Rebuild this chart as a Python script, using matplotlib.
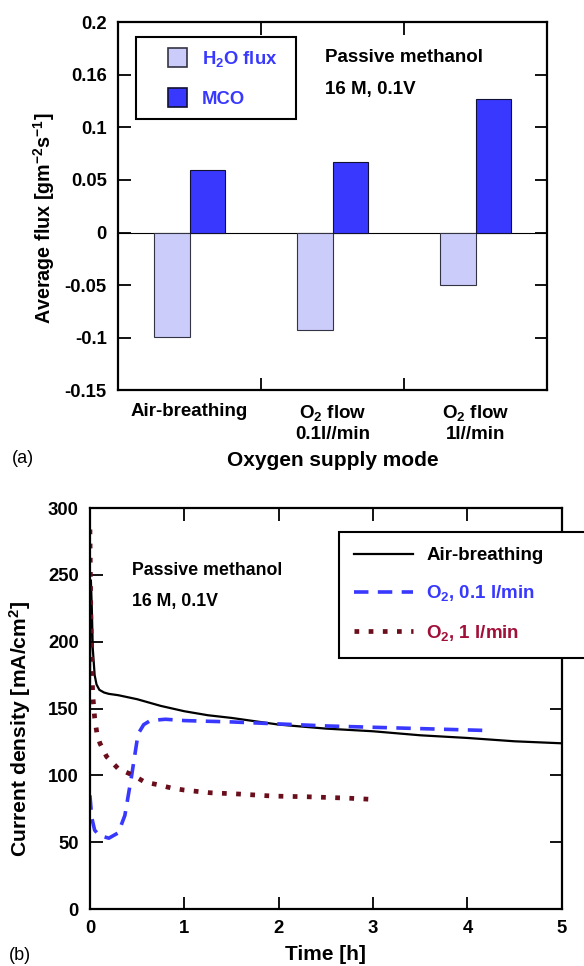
import numpy as np
import matplotlib
matplotlib.use("Agg")
from matplotlib import pyplot as plt
from matplotlib.patches import Patch, Rectangle
from matplotlib.legend_handler import HandlerPatch

plt.rcParams['font.family'] = ['Liberation Sans', 'DejaVu Sans']
plt.rcParams['font.weight'] = 'bold'
plt.rcParams['axes.labelweight'] = 'bold'
plt.rcParams['mathtext.fontset'] = 'custom'
plt.rcParams['mathtext.rm'] = 'Liberation Sans:bold'
plt.rcParams['mathtext.bf'] = 'Liberation Sans:bold'
plt.rcParams['mathtext.it'] = 'Liberation Sans:bold'
plt.rcParams['mathtext.default'] = 'rm'

# --- dane (a) ---
categories = ["Air-breathing", "O$_2$ flow\n0.1l//min", "O$_2$ flow\n1l//min"]
h2o_flux = [-0.0998, -0.0926, -0.0502]
mco_flux = [0.0597, 0.0670, 0.1267]
flux_ticks = [-0.15, -0.1, -0.05, 0, 0.05, 0.1, 0.15, 0.2]
flux_tick_labels = ["-0.15", "-0.1", "-0.05", "0", "0.05", "0.1", "0.16", "0.2"]

# --- dane (b) ---
t_air = [0, 0.005, 0.01, 0.02, 0.03, 0.05, 0.07, 0.1, 0.15, 0.2, 0.3, 0.5,
         0.75, 1.0, 1.25, 1.5, 2.0, 2.5, 3.0, 3.5, 4.0, 4.5, 5.0]
j_air = [165, 230, 246, 225, 195, 175, 168, 164, 162, 161, 160, 157,
         152, 148, 145, 143, 138, 135, 133, 130, 128, 125.5, 124]

t_o2_01 = [0, 0.02, 0.05, 0.1, 0.2, 0.3, 0.37, 0.44, 0.51, 0.57, 0.64, 0.8,
           1.0, 1.5, 2.0, 2.5, 3.0, 3.5, 4.0, 4.25]
j_o2_01 = [85, 68, 59, 55, 53, 57, 70, 99, 131, 138, 141, 142,
           141, 140, 138.5, 137, 136, 135, 134, 133.5]

t_o2_1 = [0, 0.005, 0.01, 0.02, 0.03, 0.05, 0.075, 0.106, 0.177, 0.3, 0.46,
          0.58, 0.72, 0.865, 1.0, 1.27, 1.59, 1.94, 2.3, 2.72, 3.0]
j_o2_1 = [284, 250, 215, 180, 160, 143, 131, 124, 114, 105, 100,
          95, 93, 90.5, 89, 87, 86, 84.5, 84, 83, 82]

blue = "#3838ff"
light = "#ccccfa"
maroon = "#6a0e1c"


# kwadratowy symbol legendy, dosunięty do prawej strony pola
def square_patch(legend, orig_handle, xdescent, ydescent, width, height, fontsize):
    return Rectangle((-xdescent + width - height, -ydescent), height, height)


fig = plt.figure(figsize=(5.84, 9.66), dpi=100)

# ---------------- (a) ----------------
ax1 = fig.add_axes([0.202, 0.596, 0.735, 0.381])
x = np.arange(len(categories)) + 0.5
w = 0.25
ax1.bar(x - w / 2, h2o_flux, w, color=light, edgecolor="#333344", linewidth=0.8)
ax1.bar(x + w / 2, mco_flux, w, color=blue, edgecolor="#111133", linewidth=0.8)
ax1.axhline(0, color="black", linewidth=0.8, zorder=0.5)
ax1.set_xlim(0, 3)
ax1.set_ylim(-0.15, 0.2)
ax1.set_yticks(flux_ticks)
ax1.set_yticklabels(flux_tick_labels)
ax1.set_xticks([1, 2])
ax1.set_xticklabels([])
ax1.set_xticks(x, minor=True)
ax1.set_xticklabels(categories, minor=True, fontsize=13.5, linespacing=1.25)
ax1.tick_params(axis='x', which='minor', length=0, pad=9)
ax1.tick_params(which='major', direction='in', top=True, right=True, length=9, width=1.3,
                labelsize=13.3, pad=8)
for s in ax1.spines.values():
    s.set_linewidth(1.6)
ax1.set_ylabel("Average flux [gm$^{-2}$s$^{-1}$]", fontsize=14.2)
ax1.yaxis.set_label_coords(-0.142, 0.467)
ax1.set_xlabel("Oxygen supply mode", fontsize=15, labelpad=6)
ax1.text(0.483, 0.905, "Passive methanol", transform=ax1.transAxes, fontsize=13.5,
         va="center")
ax1.text(0.483, 0.818, "16 M, 0.1V", transform=ax1.transAxes, fontsize=13.5, va="center")
handles1 = [Patch(facecolor=light, edgecolor="#333344", linewidth=1.2),
            Patch(facecolor=blue, edgecolor="#111133", linewidth=1.2)]
leg1 = ax1.legend(handles1, ["H$_2$O flux", "MCO"], loc="upper left",
                  bbox_to_anchor=(0.042, 0.5, 0.373, 0.459), mode="expand",
                  borderaxespad=0, fancybox=False,
                  edgecolor="black", framealpha=1, fontsize=13.3, labelcolor=blue,
                  handlelength=2.16, handleheight=1.2, labelspacing=1.02,
                  borderpad=0.6, handletextpad=0.81,
                  handler_map={Patch: HandlerPatch(patch_func=square_patch)})
leg1.get_frame().set_linewidth(1.5)
fig.text(12 / 584, 1 - 458 / 966, "(a)", fontsize=13, fontweight="normal", va="center")

# ---------------- (b) ----------------
ax2 = fig.add_axes([0.154, 0.059, 0.808, 0.415])
ax2.plot(t_air, j_air, color="black", linewidth=1.6, label="Air-breathing")
ax2.plot(t_o2_01, j_o2_01, color=blue, linewidth=2.6, dashes=(4, 2.6),
         label="O$_2$, 0.1 l/min")
ax2.plot(t_o2_1, j_o2_1, color=maroon, linewidth=3.4, dashes=(1, 2.0),
         dash_capstyle="butt", label="O$_2$, 1 l/min")
ax2.set_xlim(0, 5)
ax2.set_ylim(0, 300)
ax2.set_xticks(range(0, 6))
ax2.set_yticks(range(0, 301, 50))
ax2.tick_params(direction='in', top=True, right=True, length=9, width=1.3,
                labelsize=13.3, pad=8)
for s in ax2.spines.values():
    s.set_linewidth(1.6)
ax2.set_ylabel("Current density [mA/cm$^2$]", fontsize=15.2)
ax2.yaxis.set_label_coords(-0.121, 0.45)
ax2.set_xlabel("Time [h]", fontsize=15, labelpad=6)
ax2.text(0.09, 0.845, "Passive methanol", transform=ax2.transAxes, fontsize=12.8,
         va="center")
ax2.text(0.09, 0.767, "16 M, 0.1V", transform=ax2.transAxes, fontsize=12.8, va="center")
leg2 = ax2.legend(loc="upper left", bbox_to_anchor=(0.5275, 0.631, 0.62, 0.309),
                  mode="expand", borderaxespad=0, fancybox=False, edgecolor="black",
                  framealpha=1, fontsize=13.5, handlelength=3.15, labelspacing=1.02,
                  borderpad=0.8, handletextpad=0.7)
leg2.get_frame().set_linewidth(1.5)
for txt, c in zip(leg2.get_texts(), ["black", blue, "#a01038"]):
    txt.set_color(c)
fig.text(20 / 584, 1 - 955 / 966, "(b)", fontsize=13, fontweight="normal",
         va="center", ha="center")

plt.savefig("out.png", dpi=100)
plt.close()
